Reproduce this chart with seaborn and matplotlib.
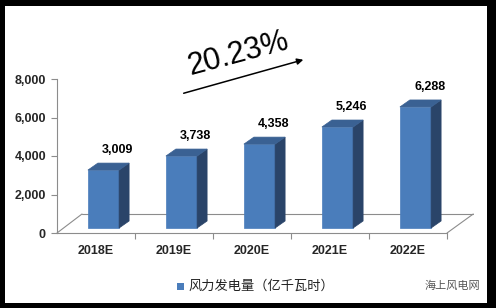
import matplotlib
matplotlib.use("Agg")
import matplotlib.pyplot as plt
import matplotlib.transforms as mtransforms
from matplotlib.patches import Polygon, Rectangle
from matplotlib.ticker import FuncFormatter
import seaborn as sns

categories = ["2018E", "2019E", "2020E", "2021E", "2022E"]
values = [3009, 3738, 4358, 5246, 6288]
value_labels = ["3,009", "3,738", "4,358", "5,246", "6,288"]
series_name = "风力发电量（亿千瓦时）"
growth_label = "20.23%"
yticks = [0, 2000, 4000, 6000, 8000]

sns.set_theme(style="white")
plt.rcParams["font.family"] = ["Liberation Sans", "Noto Sans CJK SC", "DejaVu Sans"]

W, H = 496, 308
DPI = 100
fig = plt.figure(figsize=(W / DPI, H / DPI), dpi=DPI)
fig.patch.set_facecolor("white")

ax = fig.add_axes([57 / W, 1 - 233 / H, (447 - 57) / W, (233 - 79) / H])
ax.set_facecolor("none")

front = "#4A7DBB"
side = "#2A4469"
top = "#3A6193"

sns.barplot(x=categories, y=values, color=front, width=0.4, saturation=1,
            ax=ax, zorder=3, edgecolor=front, linewidth=0.5)
ax.set_xlim(-0.5, 4.5)
ax.set_ylim(0, 8000)

# 3D offsets
off = mtransforms.offset_copy(ax.transData, fig=fig, x=7.5, y=5, units="dots")
for p in ax.patches:
    p.set_transform(off)

px_per_cat = 78.0
px_per_val = 154.0 / 8000
ddx = 10 / px_per_cat
ddy = 7 / px_per_val
hw = 0.2
for i, v in enumerate(values):
    xr = i + hw
    xl = i - hw
    ax.add_patch(Polygon([(xr, 0), (xr, v), (xr + ddx, v + ddy), (xr + ddx, ddy)],
                         closed=True, facecolor=side, edgecolor=side, lw=0.5,
                         transform=off, zorder=3, clip_on=False))
    ax.add_patch(Polygon([(xl, v), (xr, v), (xr + ddx, v + ddy), (xl + ddx, v + ddy)],
                         closed=True, facecolor=top, edgecolor=top, lw=0.5,
                         transform=off, zorder=3, clip_on=False))
    ax.text(i + 0.28, v, value_labels[i], transform=mtransforms.offset_copy(
        ax.transData, fig=fig, x=0, y=19, units="dots"),
        ha="center", va="bottom", fontsize=9, fontweight="bold", color="black",
        zorder=5)

# floor
fx = 25 / px_per_cat
fy = 19 / px_per_val
gray = "#8C8C8C"
ax.plot([-0.5, -0.5 + fx], [0, fy], color=gray, lw=0.8, clip_on=False, zorder=1)
ax.plot([-0.5 + fx, 4.5 + fx * 1.05], [fy, fy], color=gray, lw=0.8, clip_on=False, zorder=1)
ax.plot([4.5, 4.5 + fx * 1.05], [0, fy], color=gray, lw=0.8, clip_on=False, zorder=1)

# axes styling
for s in ["top", "right"]:
    ax.spines[s].set_visible(False)
for s in ["left", "bottom"]:
    ax.spines[s].set_color(gray)
    ax.spines[s].set_linewidth(0.8)
ax.set_yticks(yticks)
ax.yaxis.set_major_formatter(FuncFormatter(lambda v, p: f"{int(v):,}"))
ax.tick_params(axis="y", length=4, width=0.8, color=gray, pad=4, left=True,
               labelsize=9)
ax.set_xticks(range(len(categories)))
ax.set_xticklabels(categories)
ax.set_xticks([i + 0.5 for i in range(len(categories))], minor=True)
ax.tick_params(axis="x", which="major", length=0, pad=9, labelsize=9)
ax.tick_params(axis="x", which="minor", length=4, width=0.8, color=gray, bottom=True)
for lab in ax.get_xticklabels() + ax.get_yticklabels():
    lab.set_fontweight("bold")
ax.set_xlabel("")
ax.set_ylabel("")

# growth annotation
fig.text(238 / W, 1 - 54 / H, growth_label, rotation=15, ha="center", va="center",
         fontsize=22, color="black", family=["Liberation Sans", "DejaVu Sans"])
fig.add_artist(matplotlib.patches.FancyArrowPatch(
    (181 / W, 1 - 94 / H), (306 / W, 1 - 59 / H), transform=fig.transFigure,
    arrowstyle="-|>", mutation_scale=9, color="black", lw=1.1))

# legend
fig.patches.append(Rectangle((177 / W, 1 - 290 / H), 7 / W, 7 / H, transform=fig.transFigure,
                             facecolor=front, edgecolor="none"))
fig.text(188 / W, 1 - 286 / H, series_name, ha="left", va="center", fontsize=9.5,
         color="#222222", family=["Noto Sans CJK SC", "DejaVu Sans"])

# watermark
fig.text(425 / W, 1 - 286 / H, "海上风电网", ha="left", va="center", fontsize=8,
         color="#555555", family=["Noto Sans CJK SC", "DejaVu Sans"])

# black frame
for (x0, y0, w, h) in [(0, 0, 5, H), (487, 0, 9, H), (0, 0, W, 6), (0, 303, W, 5)]:
    fig.patches.append(Rectangle((x0 / W, 1 - (y0 + h) / H), w / W, h / H,
                                 transform=fig.transFigure, facecolor="black",
                                 edgecolor="none", zorder=10))

fig.savefig("out.png", dpi=DPI)
